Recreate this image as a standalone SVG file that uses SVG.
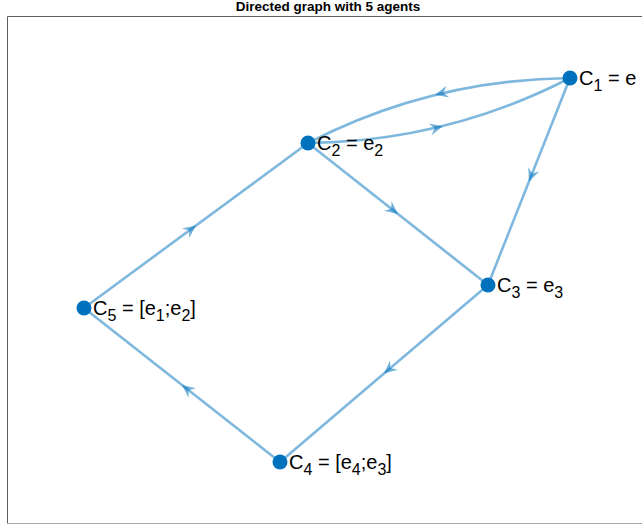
<svg xmlns="http://www.w3.org/2000/svg" width="642" height="527" viewBox="0 0 642 527">
<style>
.edge{fill:none;stroke:#0072BD;stroke-opacity:0.5;stroke-width:2.6}
.ah{fill:#0072BD;fill-opacity:0.55}
.node{fill:#0072BD}
.lbl{font-family:"Liberation Sans",Arial,sans-serif;font-size:20px;fill:#000}
.sub{font-size:16px}
.title{font-family:"Liberation Sans",Arial,sans-serif;font-size:13.5px;font-weight:bold;fill:#000}
</style>
<defs>
<path id="arr" d="M0,0 L-13,-6 L-8.5,0 L-13,6 Z"/>
</defs>
<rect width="642" height="527" fill="#fff"/>
<g id="axes">
<path d="M7.5,523.5 V16.5 H642" fill="none" stroke="#5e5e5e" stroke-width="1"/>
<path d="M7.5,523.5 H642" fill="none" stroke="#a8a8a8" stroke-width="1"/>
</g>
<text class="title" x="328" y="10.5" text-anchor="middle">Directed graph with 5 agents</text>
<g id="connectors">
<path class="edge" d="M570,78 Q431.3,79.5 308,143"/>
<path class="edge" d="M308,143 Q446.7,141.5 570,78"/>
<path class="edge" d="M570,78 L488,285"/>
<path class="edge" d="M308,143 L488,285"/>
<path class="edge" d="M488,285 L280,462"/>
<path class="edge" d="M280,462 L84,308"/>
<path class="edge" d="M84,308 L308,143"/>
<use href="#arr" class="ah" transform="translate(435.2,94.8) rotate(166.07)"/>
<use href="#arr" class="ah" transform="translate(442.8,126.2) rotate(-13.93)"/>
<use href="#arr" class="ah" transform="translate(529,181.5) rotate(111.61)"/>
<use href="#arr" class="ah" transform="translate(398,214) rotate(38.27)"/>
<use href="#arr" class="ah" transform="translate(384,373.5) rotate(139.61)"/>
<use href="#arr" class="ah" transform="translate(182,385) rotate(-141.84)"/>
<use href="#arr" class="ah" transform="translate(196,225.5) rotate(-36.37)"/>
</g>
<g id="n1"><circle class="node" cx="570" cy="78" r="7.5"/><text class="lbl" x="579" y="85">C<tspan class="sub" dy="6">1</tspan><tspan dy="-6"> = e</tspan></text></g>
<g id="n2"><circle class="node" cx="308" cy="143" r="7.5"/><text class="lbl" x="317" y="150">C<tspan class="sub" dy="6">2</tspan><tspan dy="-6"> = e</tspan><tspan class="sub" dy="6">2</tspan></text></g>
<g id="n3"><circle class="node" cx="488" cy="285" r="7.5"/><text class="lbl" x="497" y="292">C<tspan class="sub" dy="6">3</tspan><tspan dy="-6"> = e</tspan><tspan class="sub" dy="6">3</tspan></text></g>
<g id="n4"><circle class="node" cx="280" cy="462" r="7.5"/><text class="lbl" x="289" y="469">C<tspan class="sub" dy="6">4</tspan><tspan dy="-6"> = [e</tspan><tspan class="sub" dy="6">4</tspan><tspan dy="-6">;e</tspan><tspan class="sub" dy="6">3</tspan><tspan dy="-6">]</tspan></text></g>
<g id="n5"><circle class="node" cx="84" cy="308" r="7.5"/><text class="lbl" x="93" y="315">C<tspan class="sub" dy="6">5</tspan><tspan dy="-6"> = [e</tspan><tspan class="sub" dy="6">1</tspan><tspan dy="-6">;e</tspan><tspan class="sub" dy="6">2</tspan><tspan dy="-6">]</tspan></text></g>
</svg>
